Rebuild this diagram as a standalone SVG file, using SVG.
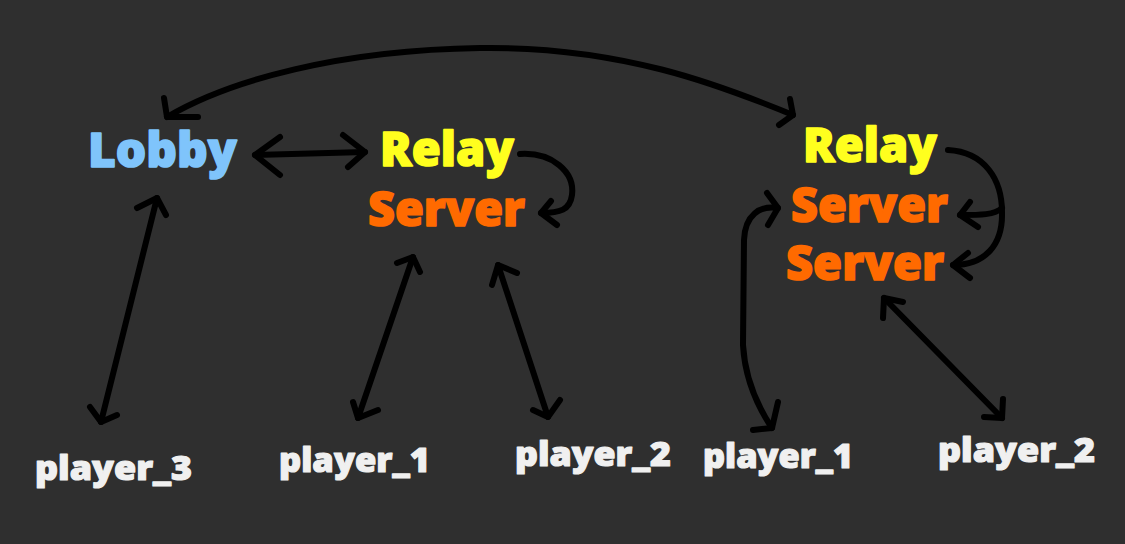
<svg xmlns="http://www.w3.org/2000/svg" width="1125" height="544" viewBox="0 0 1125 544">
<style>
.t{font-family:"Open Sans","Liberation Sans",sans-serif;font-weight:800;stroke-linejoin:round}
.big{font-size:48px;stroke-width:1.6}
.sm{font-size:34px;fill:#f0f0f0;stroke:#f0f0f0;stroke-width:1.2}
.lobby{fill:#7fc4fb;stroke:#7fc4fb}
.relay{fill:#ffff1e;stroke:#ffff1e}
.server{fill:#ff6a00;stroke:#ff6a00}
.c path{fill:none;stroke:#000;stroke-width:6;stroke-linecap:round;stroke-linejoin:round}
</style>
<rect width="1125" height="544" fill="#2f2f2f"/>
<g id="lobby"><text class="t big lobby" x="88" y="167" textLength="149" lengthAdjust="spacingAndGlyphs">Lobby</text></g>
<g id="relay1"><text class="t big relay" x="380" y="166" textLength="134" lengthAdjust="spacingAndGlyphs">Relay</text></g>
<g id="server1"><text class="t big server" x="368" y="226" textLength="157" lengthAdjust="spacingAndGlyphs">Server</text></g>
<g id="relay2"><text class="t big relay" x="803" y="162" textLength="134" lengthAdjust="spacingAndGlyphs">Relay</text></g>
<g id="server2a"><text class="t big server" x="791" y="222" textLength="157" lengthAdjust="spacingAndGlyphs">Server</text></g>
<g id="server2b"><text class="t big server" x="786" y="280" textLength="158" lengthAdjust="spacingAndGlyphs">Server</text></g>
<g id="player3"><text class="t sm" x="35" y="480" textLength="157" lengthAdjust="spacingAndGlyphs">player_3</text></g>
<g id="player1a"><text class="t sm" x="279" y="472" textLength="151" lengthAdjust="spacingAndGlyphs">player_1</text></g>
<g id="player2a"><text class="t sm" x="515" y="466" textLength="156" lengthAdjust="spacingAndGlyphs">player_2</text></g>
<g id="player1b"><text class="t sm" x="703" y="468" textLength="150" lengthAdjust="spacingAndGlyphs">player_1</text></g>
<g id="player2b"><text class="t sm" x="938" y="462" textLength="157" lengthAdjust="spacingAndGlyphs">player_2</text></g>
<g id="connectors" class="c">
<path d="M167,117 C230,80 340,50 480,48 C620,46 720,85 793,115"/>
<path d="M164,98 L167,117 L198,117"/>
<path d="M790,99 L793,115 L779,125"/>
<path d="M255,155 L365,152"/>
<path d="M280,137 L255,155 L280,175"/>
<path d="M343,135 L365,152 L348,167"/>
<path d="M520,154 C552,152 575,172 572,195 C570,210 560,213 541,213"/>
<path d="M551,201 L541,213 L557,225"/>
<path d="M157,198 L101,422"/>
<path d="M137,208 L157,198 L166,215"/>
<path d="M90,407 L101,422 L117,415"/>
<path d="M413,257 L358,418"/>
<path d="M397,263 L413,257 L420,272"/>
<path d="M353,402 L358,418 L378,410"/>
<path d="M498,265 L548,417"/>
<path d="M492,285 L498,265 L517,273"/>
<path d="M533,410 L548,417 L560,400"/>
<path d="M948,150 C985,152 1002,180 1002,212 C1003,245 985,265 953,265"/>
<path d="M1002,208 C995,215 980,215 960,215"/>
<path d="M970,202 L960,215 L978,227"/>
<path d="M968,253 L953,265 L970,278"/>
<path d="M778,208 C760,205 745,215 744,240 L743,345 C745,380 760,410 772,428"/>
<path d="M767,193 L778,208 L768,225"/>
<path d="M778,402 L772,428 L753,430"/>
<path d="M884,298 L1002,418"/>
<path d="M883,318 L884,298 L903,302"/>
<path d="M1003,399 L1002,418 L984,417"/>
</g>
</svg>
